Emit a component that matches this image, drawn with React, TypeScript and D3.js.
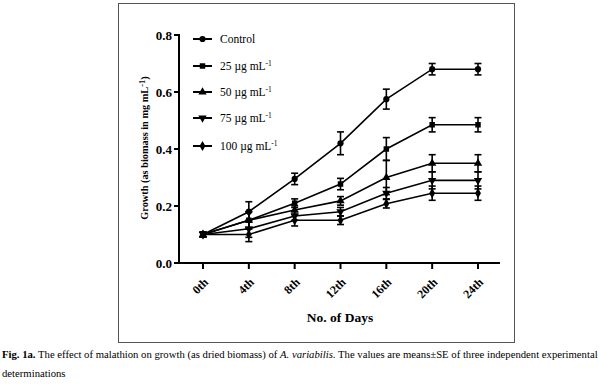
import React from "react";
import * as d3 from "d3";

const days = ["0th", "4th", "8th", "12th", "16th", "20th", "24th"];
const seriesNames = ["Control", "25 µg mL", "50 µg mL", "75 µg mL", "100 µg mL"];
const controlVals = [0.1, 0.18, 0.295, 0.42, 0.575, 0.68, 0.68];
const controlErr = [0.008, 0.035, 0.02, 0.04, 0.035, 0.02, 0.02];
const c25Vals = [0.1, 0.15, 0.21, 0.277, 0.4, 0.485, 0.485];
const c25Err = [0.008, 0.03, 0.015, 0.02, 0.04, 0.025, 0.025];
const c50Vals = [0.1, 0.15, 0.186, 0.218, 0.3, 0.35, 0.35];
const c50Err = [0.008, 0.03, 0.015, 0.015, 0.06, 0.03, 0.03];
const c75Vals = [0.1, 0.12, 0.165, 0.18, 0.245, 0.29, 0.29];
const c75Err = [0.008, 0.03, 0.015, 0.015, 0.02, 0.03, 0.03];
const c100Vals = [0.1, 0.1, 0.15, 0.15, 0.208, 0.245, 0.245];
const c100Err = [0.008, 0.025, 0.02, 0.015, 0.015, 0.025, 0.025];
const yTicks = [0.0, 0.2, 0.4, 0.6, 0.8];

const series = [
  { name: seriesNames[0], vals: controlVals, err: controlErr, sym: d3.symbolCircle, sup: false, rot: 0 },
  { name: seriesNames[1], vals: c25Vals, err: c25Err, sym: d3.symbolSquare, sup: true, rot: 0 },
  { name: seriesNames[2], vals: c50Vals, err: c50Err, sym: d3.symbolTriangle, sup: true, rot: 0 },
  { name: seriesNames[3], vals: c75Vals, err: c75Err, sym: d3.symbolTriangle, sup: true, rot: 180 },
  { name: seriesNames[4], vals: c100Vals, err: c100Err, sym: d3.symbolDiamond, sup: true, rot: 0 },
];

const serif = "'Liberation Serif', 'DejaVu Serif', serif";

export default function App() {
  const x = d3.scalePoint<string>().domain(days).range([203, 478]);
  const y = d3.scaleLinear().domain([0, 0.8]).range([263, 35]);
  const line = d3
    .line<number>()
    .x((_, i) => x(days[i]) as number)
    .y((v) => y(v));
  const legendY = [39, 66, 92, 118, 146];

  return (
    <svg
      width={600}
      height={385}
      style={{ position: "absolute", left: 0, top: 0, background: "#fff" }}
      fontFamily={serif}
    >
      <rect x={118.5} y={3.5} width={396} height={339} fill="none" stroke="#555" strokeWidth={1} />
      {/* Y axis */}
      <line x1={179} x2={179} y1={34} y2={264} stroke="#000" strokeWidth={2} />
      {yTicks.map((t) => (
        <g key={t}>
          <line x1={174} x2={179} y1={y(t)} y2={y(t)} stroke="#000" strokeWidth={2} />
          <text x={172} y={y(t)} dy="0.35em" textAnchor="end" fontSize={13} fontWeight="bold">
            {t.toFixed(1)}
          </text>
        </g>
      ))}
      {/* X axis */}
      <line x1={178} x2={500} y1={263} y2={263} stroke="#000" strokeWidth={2} />
      {days.map((d) => (
        <g key={d}>
          <line x1={x(d)} x2={x(d)} y1={263} y2={269} stroke="#000" strokeWidth={2} />
          <text
            transform={`translate(${(x(d) as number) + 3},${280}) rotate(-45)`}
            textAnchor="end"
            fontSize={12}
            fontWeight="bold"
            dy="0.35em"
          >
            {d}
          </text>
        </g>
      ))}
      <text x={340} y={322} textAnchor="middle" fontSize={13.5} fontWeight="bold">
        No. of Days
      </text>
      <text
        transform="translate(148,148) rotate(-90)"
        textAnchor="middle"
        fontSize={10.3}
        fontWeight="bold"
      >
        Growth (as biomass in mg mL<tspan dy={-3} fontSize={8.5}>-1</tspan>
        <tspan dy={3}>)</tspan>
      </text>
      {/* series */}
      {series.map((s, si) => (
        <g key={si}>
          <path d={line(s.vals) || ""} fill="none" stroke="#000" strokeWidth={1.6} />
          {s.vals.map((v, i) => {
            const cx = x(days[i]) as number;
            const top = y(v + s.err[i]);
            const bot = y(v - s.err[i]);
            return (
              <g key={i}>
                <line x1={cx} x2={cx} y1={top} y2={bot} stroke="#000" strokeWidth={1.6} />
                <line x1={cx - 3.5} x2={cx + 3.5} y1={top} y2={top} stroke="#000" strokeWidth={1.6} />
                <line x1={cx - 3.5} x2={cx + 3.5} y1={bot} y2={bot} stroke="#000" strokeWidth={1.6} />
                <path
                  d={d3.symbol().type(s.sym).size(30)() || ""}
                  transform={`translate(${cx},${y(v)}) rotate(${s.rot})`}
                  fill="#000"
                />
              </g>
            );
          })}
        </g>
      ))}
      {/* legend */}
      {series.map((s, si) => (
        <g key={si} transform={`translate(0,${legendY[si]})`}>
          <line x1={193} x2={212} y1={0} y2={0} stroke="#000" strokeWidth={2} />
          <path
            d={d3.symbol().type(s.sym).size(30)() || ""}
            transform={`translate(202.5,0) rotate(${s.rot})`}
            fill="#000"
          />
          <text x={220} y={0} dy="0.35em" fontSize={11.5}>
            {s.name}
            {s.sup && (
              <tspan dy={-4} fontSize={7.5}>
                -1
              </tspan>
            )}
          </text>
        </g>
      ))}
      {/* caption */}
      <text x={2} y={358} fontSize={10.7}>
        <tspan fontWeight="bold">Fig. 1a.</tspan>
        <tspan> The effect of malathion on growth (as dried biomass) of </tspan>
        <tspan fontStyle="italic">A. variabilis</tspan>
        <tspan>. The values are means±SE of three independent experimental</tspan>
      </text>
      <text x={2} y={377} fontSize={10.7}>
        determinations
      </text>
    </svg>
  );
}
